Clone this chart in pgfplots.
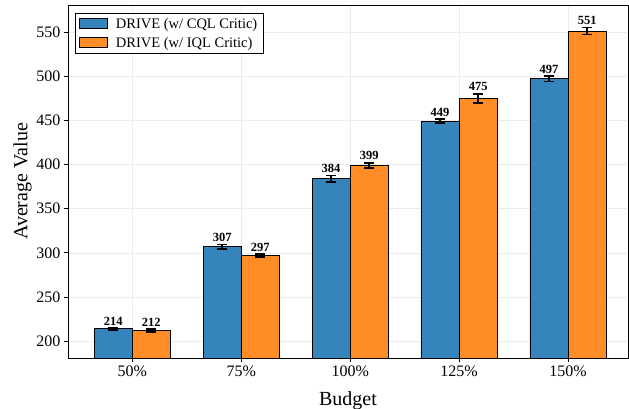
\documentclass[border=0pt]{standalone}
\usepackage{pgfplots}
\pgfplotsset{compat=1.18}
\usepackage{pgfplotstable}
\usepackage{fontspec}
\setmainfont{Liberation Serif}
\definecolor{cblue}{RGB}{53,133,188}
\definecolor{corange}{RGB}{255,140,38}
\pgfplotstableread{
x y err
0 214 1.0
1 307 2.5
2 384 3.5
3 449 2.5
4 497 3.0
}\cql
\pgfplotstableread{
x y err
0 212 1.5
1 297 1.5
2 399 3.0
3 475 5.0
4 551 4.0
}\iql
\begin{document}
\begin{tikzpicture}
\begin{axis}[
  name=ax,
  width=560pt, height=353pt, scale only axis,
  xmin=-0.59, xmax=4.55, ymin=181, ymax=580.5,
  xtick={0,1,2,3,4}, xticklabels={50\%,75\%,100\%,125\%,150\%},
  ytick={200,250,...,550},
  tick align=outside, tick pos=left,
  major tick length=4pt,
  grid=major, grid style={gray!15, line width=0.6pt},
  axis line style={line width=0.9pt},
  tick style={black, line width=0.8pt},
  ticklabel style={font=\fontsize{16}{18}\selectfont},
  /pgf/number format/assume math mode=true,
  xlabel={Budget}, ylabel={Average Value},
  label style={font=\fontsize{20}{22}\selectfont},
  ylabel style={yshift=-2pt},
  xlabel style={yshift=-8pt},
  ybar, bar width=0.35,
  legend style={at={(0.012,0.978)}, anchor=north west, draw=black, line width=0.9pt,
    font=\fontsize{14.5}{17}\selectfont, row sep=3.5pt, inner xsep=4pt, inner ysep=3pt,
    /tikz/every odd column/.append style={column sep=6pt},
    /tikz/every even column/.append style={column sep=9pt}},
  legend cell align=left,
  legend image code/.code={\draw[#1, line width=0.8pt] (0pt,-4.5pt) rectangle (28pt,5.5pt);},
]
\addplot[fill=cblue, draw=black, line width=0.8pt, bar shift=-0.175,
  error bars/.cd, y dir=both, y explicit,
  error bar style={line width=1.8pt, black},
  error mark options={rotate=90, line width=1.8pt, mark size=5pt, black}]
  table[x=x, y=y, y error=err] {\cql};
\addplot[fill=corange, draw=black, line width=0.8pt, bar shift=0.175,
  error bars/.cd, y dir=both, y explicit,
  error bar style={line width=1.8pt, black},
  error mark options={rotate=90, line width=1.8pt, mark size=5pt, black}]
  table[x=x, y=y, y error=err] {\iql};
\legend{DRIVE (w/ CQL Critic), DRIVE (w/ IQL Critic)}
% value labels
\addplot[only marks, mark=none, bar shift=-0.175, draw=none, fill=none,
  nodes near coords, point meta=explicit symbolic, forget plot,
  nodes near coords style={font=\bfseries\fontsize{12.5}{14}\selectfont, anchor=south, inner sep=2.5pt}]
  table[x=x, y expr=\thisrow{y}+\thisrow{err}, meta=y] {\cql};
\addplot[only marks, mark=none, bar shift=0.175, draw=none, fill=none,
  nodes near coords, point meta=explicit symbolic, forget plot,
  nodes near coords style={font=\bfseries\fontsize{12.5}{14}\selectfont, anchor=south, inner sep=2.5pt}]
  table[x=x, y expr=\thisrow{y}+\thisrow{err}, meta=y] {\iql};
\end{axis}
\pgfresetboundingbox
\path[use as bounding box] ([shift={(-68pt,-51pt)}]ax.south west) rectangle ([shift={(1pt,5pt)}]ax.north east);
\end{tikzpicture}
\end{document}
